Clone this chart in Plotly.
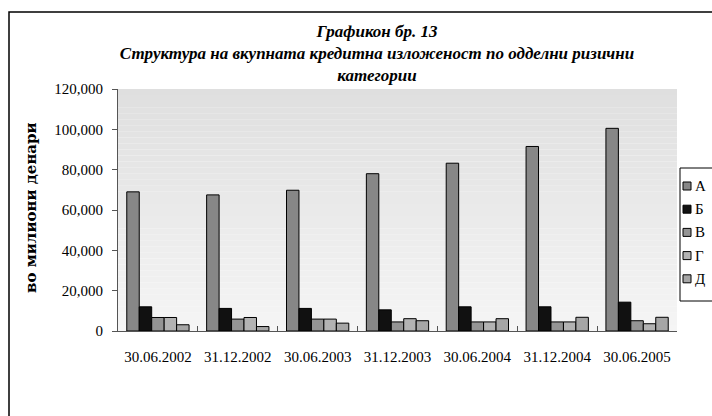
import plotly.graph_objects as go

# датуми (категории на x-оската)
DATES = ["30.06.2002", "31.12.2002", "30.06.2003", "31.12.2003",
         "30.06.2004", "31.12.2004", "30.06.2005"]

# вредности во милиони денари, по ризична категорија
CAT_A = [69000, 67500, 69800, 78000, 83200, 91500, 100500]
CAT_B = [12000, 11200, 11200, 10500, 12000, 12000, 14300]
CAT_V = [6700, 5900, 5900, 4500, 4500, 4500, 5100]
CAT_G = [6700, 6700, 5900, 6100, 4500, 4500, 3600]
CAT_D = [3100, 2200, 3900, 5100, 6100, 6800, 6800]

SERIES = [
    ("А", CAT_A, "#878787"),
    ("Б", CAT_B, "#111111"),
    ("В", CAT_V, "#949494"),
    ("Г", CAT_G, "#b3b3b3"),
    ("Д", CAT_D, "#a6a6a6"),
]

SERIF = "Liberation Serif, Times New Roman, serif"

# пиксели на површината за цртање во прозорец 712x416
W, H = 712, 416
PL, PR, PT, PB = 118, 677, 89, 331


def px_x(p):
    return (p - PL) / (PR - PL)


def px_y(p):
    return (PB - p) / (PB - PT)


fig = go.Figure()
for name, vals, color in SERIES:
    fig.add_trace(go.Bar(
        x=DATES, y=vals, name=name, showlegend=False,
        marker=dict(color=color, line=dict(color="black", width=1)),
    ))

# сива преливка како позадина на графикот
shapes = []
n_bands = 40
for i in range(n_bands):
    t = i / (n_bands - 1)
    c = round(0xdf + (0xf5 - 0xdf) * t)
    shapes.append(dict(
        type="rect", xref="paper", yref="paper", layer="below",
        x0=0, x1=1, y0=1 - (i + 1) / n_bands, y1=1 - i / n_bands,
        fillcolor=f"rgb({c},{c},{c})", line=dict(width=0),
    ))
# надворешна рамка
shapes.append(dict(
    type="rect", xref="paper", yref="paper", layer="above",
    x0=px_x(9), x1=px_x(730), y0=px_y(430), y1=px_y(12),
    line=dict(color="black", width=1.5), fillcolor="rgba(0,0,0,0)",
))

annotations = [dict(
    text="во милиони денари", textangle=-90,
    xref="paper", yref="paper", x=px_x(31), y=px_y(208),
    xanchor="center", yanchor="middle", showarrow=False,
    font=dict(family="DejaVu Serif, serif", size=15, color="black", weight="bold"),
)]

# легенда (рамка, квадратчиња и ознаки), делумно отсечена на десниот раб
shapes.append(dict(
    type="rect", xref="paper", yref="paper",
    x0=px_x(680), x1=px_x(760), y0=px_y(301), y1=px_y(168),
    line=dict(color="black", width=1), fillcolor="white",
))
for k, (name, vals, color) in enumerate(SERIES):
    yc = 186 + 23.2 * k
    shapes.append(dict(
        type="rect", xref="paper", yref="paper",
        x0=px_x(683), x1=px_x(691), y0=px_y(yc + 4), y1=px_y(yc - 4),
        line=dict(color="black", width=1), fillcolor=color,
    ))
    annotations.append(dict(
        text=name, xref="paper", yref="paper", x=px_x(693), y=px_y(yc),
        xanchor="left", yanchor="middle", showarrow=False,
        font=dict(family=SERIF, size=15, color="black"),
    ))

fig.update_layout(
    width=W, height=H,
    margin=dict(l=PL, r=W - PR, t=PT, b=H - PB, autoexpand=False),
    paper_bgcolor="white",
    plot_bgcolor="rgba(0,0,0,0)",
    barmode="group", bargap=0.22, bargroupgap=0,
    font=dict(family=SERIF, size=15, color="black"),
    title=dict(
        text="Графикон бр. 13<br>Структура на вкупната кредитна изложеност по одделни ризични<br>категории",
        font=dict(family=SERIF, size=17, color="black", weight="bold", style="italic"),
        xref="container", x=377 / W, xanchor="center",
        yref="container", y=1 - 37 / H, yanchor="top",
    ),
    showlegend=False,
    shapes=shapes,
    annotations=annotations,
)

fig.update_xaxes(
    type="category", showline=True, linecolor="#555555", linewidth=1,
    ticks="inside", tickson="boundaries", ticklen=5, tickcolor="#555555",
    ticklabelstandoff=12, showgrid=False, zeroline=False,
)
fig.update_yaxes(
    range=[0, 120000], dtick=20000, tickformat=",",
    showline=True, linecolor="#555555", linewidth=1,
    ticks="outside", ticklen=5, tickcolor="#555555",
    ticklabelstandoff=6, showgrid=False, zeroline=False,
)

fig.write_html(
    "out.html",
    config={"displayModeBar": False},
    post_script="document.body.style.margin='0';document.body.style.padding='0';",
)
